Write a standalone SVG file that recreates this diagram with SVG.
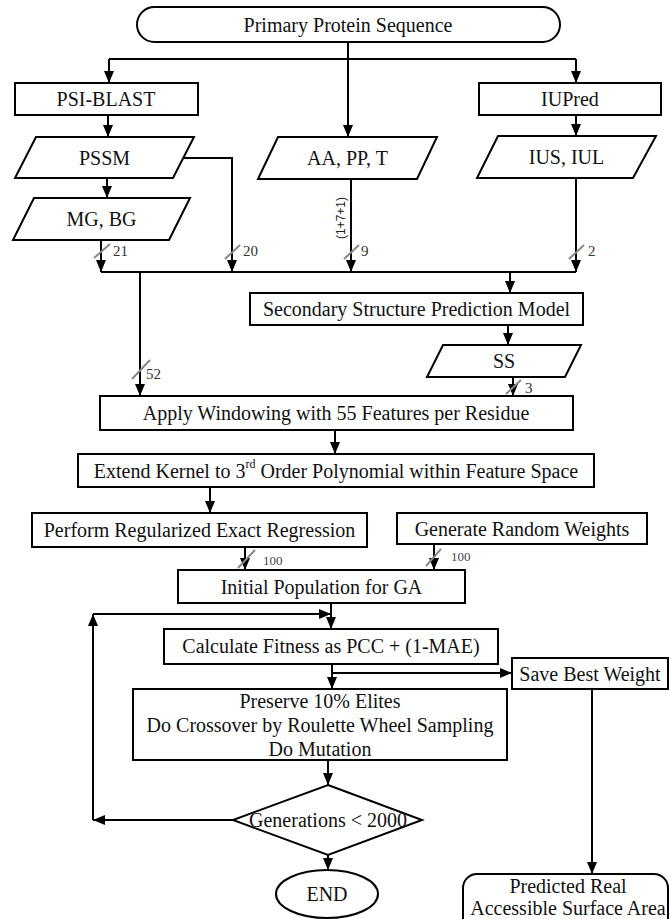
<svg xmlns="http://www.w3.org/2000/svg" width="670" height="919" viewBox="0 0 670 919">
<style>
.n{fill:#fff;stroke:#000;stroke-width:2}
.t{font-family:"Liberation Serif","Times New Roman",serif;font-size:20px;fill:#111;text-anchor:middle;dominant-baseline:central}
.c{fill:none;stroke:#000;stroke-width:2}
.s{stroke:#888;stroke-width:2}
.l{font-family:"Liberation Serif","Times New Roman",serif;font-size:15px;fill:#333}
.l2{font-family:"Liberation Serif","Times New Roman",serif;font-size:13px;fill:#444}
</style>
<defs>
<marker id="a" markerUnits="userSpaceOnUse" markerWidth="12" markerHeight="10" refX="12" refY="5" orient="auto">
<path d="M0,0 L12,5 L0,10 z" fill="#000"/>
</marker>
</defs>
<rect width="670" height="919" fill="#fff"/>
<g id="connectors">
<path class="c" d="M348,42 V137" marker-end="url(#a)"/>
<path class="c" d="M109,59 H576"/>
<path class="c" d="M109,59 V83" marker-end="url(#a)"/>
<path class="c" d="M576,59 V83" marker-end="url(#a)"/>
<path class="c" d="M108,115 V137" marker-end="url(#a)"/>
<path class="c" d="M107,178 V198" marker-end="url(#a)"/>
<path class="c" d="M101,240 V272" marker-end="url(#a)"/>
<path class="c" d="M184,158 H232 V272" marker-end="url(#a)"/>
<path class="c" d="M351,179 V272" marker-end="url(#a)"/>
<path class="c" d="M576,115 V136" marker-end="url(#a)"/>
<path class="c" d="M576,178 V272" marker-end="url(#a)"/>
<path class="c" d="M101,272 H576"/>
<path class="c" d="M510,272 V293" marker-end="url(#a)"/>
<path class="c" d="M140,272 V396" marker-end="url(#a)"/>
<path class="c" d="M508,325 V345" marker-end="url(#a)"/>
<path class="c" d="M513,377 V396" marker-end="url(#a)"/>
<path class="c" d="M335,430 V454" marker-end="url(#a)"/>
<path class="c" d="M210,487 V513" marker-end="url(#a)"/>
<path class="c" d="M245,547 V570" marker-end="url(#a)"/>
<path class="c" d="M434,544 V570" marker-end="url(#a)"/>
<path class="c" d="M331,603 V629" marker-end="url(#a)"/>
<path class="c" d="M233,820 H93" marker-end="url(#a)"/>
<path class="c" d="M93,820 V614" marker-end="url(#a)"/>
<path class="c" d="M93,614 H331" marker-end="url(#a)"/>
<path class="c" d="M332,664 V689" marker-end="url(#a)"/>
<path class="c" d="M332,673 H512" marker-end="url(#a)"/>
<path class="c" d="M328,760 V785" marker-end="url(#a)"/>
<path class="c" d="M328,855 V870" marker-end="url(#a)"/>
<path class="c" d="M592,689 V874" marker-end="url(#a)"/>
<line class="s" x1="94" y1="258" x2="110" y2="244"/>
<line class="s" x1="225" y1="259" x2="240" y2="245"/>
<line class="s" x1="344" y1="259" x2="359" y2="245"/>
<line class="s" x1="569" y1="259" x2="584" y2="245"/>
<line class="s" x1="132" y1="379" x2="150" y2="360"/>
<line class="s" x1="506" y1="394" x2="521" y2="380"/>
<line class="s" x1="238" y1="568" x2="255" y2="550"/>
<line class="s" x1="426" y1="566" x2="441" y2="549"/>
<text class="l" x="113" y="256">21</text>
<text class="l" x="243" y="256">20</text>
<text class="l" x="361" y="256">9</text>
<text class="l" x="588" y="256">2</text>
<text class="l" x="146" y="379">52</text>
<text class="l" x="525" y="393">3</text>
<text class="l2" x="263" y="565">100</text>
<text class="l2" x="451" y="561">100</text>
<text x="341" y="218" transform="rotate(-90 341 218)" font-family="Liberation Sans,Arial,sans-serif" font-size="12" fill="#222" text-anchor="middle" dominant-baseline="central">(1+7+1)</text>
</g>
<g id="primary"><rect class="n" x="137" y="7" width="423" height="35" rx="17.5"/><text class="t" x="348" y="24.5">Primary Protein Sequence</text></g>
<g id="psiblast"><rect class="n" x="15" y="83" width="183" height="32"/><text class="t" x="106" y="99">PSI-BLAST</text></g>
<g id="iupred"><rect class="n" x="479" y="83" width="182" height="32"/><text class="t" x="570" y="99">IUPred</text></g>
<g id="pssm"><polygon class="n" points="36,137 194,137 173,178 15,178"/><text class="t" x="104.5" y="157.5">PSSM</text></g>
<g id="mgbg"><polygon class="n" points="34,198 190,198 169,240 13,240"/><text class="t" x="101.5" y="219">MG, BG</text></g>
<g id="aappt"><polygon class="n" points="278,137 437,137 417,179 258,179"/><text class="t" x="347.5" y="158">AA, PP, T</text></g>
<g id="iusiul"><polygon class="n" points="498,136 656,136 633,178 477,178"/><text class="t" x="566.5" y="157">IUS, IUL</text></g>
<g id="sspm"><rect class="n" x="250" y="293" width="333" height="32"/><text class="t" x="416.5" y="309">Secondary Structure Prediction Model</text></g>
<g id="ss"><polygon class="n" points="443,345 581,345 565,377 427,377"/><text class="t" x="504" y="361">SS</text></g>
<g id="apply"><rect class="n" x="100" y="396" width="473" height="34"/><text class="t" x="336" y="413">Apply Windowing with 55 Features per Residue</text></g>
<g id="extend"><rect class="n" x="78" y="454" width="516" height="33"/><text class="t" x="336" y="470.5">Extend Kernel to 3<tspan font-size="12" dy="-7">rd</tspan><tspan dy="7"> Order Polynomial within Feature Space</tspan></text></g>
<g id="perform"><rect class="n" x="32" y="513" width="335" height="34"/><text class="t" x="199.5" y="530">Perform Regularized Exact Regression</text></g>
<g id="generate"><rect class="n" x="397" y="513" width="250" height="31"/><text class="t" x="522" y="528.5">Generate Random Weights</text></g>
<g id="initial"><rect class="n" x="178" y="570" width="287" height="33"/><text class="t" x="321.5" y="586.5">Initial Population for GA</text></g>
<g id="calc"><rect class="n" x="164" y="629" width="334" height="35"/><text class="t" x="331" y="646">Calculate Fitness as PCC + (1-MAE)</text></g>
<g id="save"><rect class="n" x="512" y="658" width="156" height="31"/><text class="t" x="590" y="673.5">Save Best Weight</text></g>
<g id="preserve"><rect class="n" x="133" y="689" width="374" height="71"/><text class="t" x="320" y="701">Preserve 10% Elites</text><text class="t" x="320" y="725">Do Crossover by Roulette Wheel Sampling</text><text class="t" x="320" y="749">Do Mutation</text></g>
<g id="decision"><polygon class="n" points="328,785 422,820 328,855 233,820"/><text class="t" x="328" y="820" font-size="18">Generations &lt; 2000</text></g>
<g id="end"><ellipse class="n" cx="327" cy="894" rx="51" ry="24"/><text class="t" x="327" y="894">END</text></g>
<g id="predicted"><rect class="n" x="463" y="874" width="205" height="60" rx="14"/><text class="t" x="568" y="886">Predicted Real</text><text class="t" x="568" y="908">Accessible Surface Area</text></g>
</svg>
